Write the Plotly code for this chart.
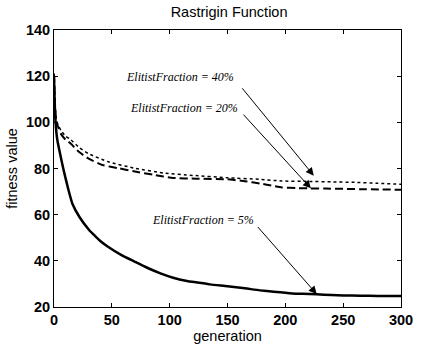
import plotly.graph_objects as go

# Best fitness per generation for three elitist fractions
gen_5 = [0, 1, 2, 3, 5, 8, 12, 16, 22, 30, 35, 40, 47, 58, 70, 81, 92, 103, 115, 123,
         135, 150, 165, 178, 190, 206, 215, 227, 240, 250, 265, 280, 300]
fit_5 = [120, 103, 96, 92, 87, 80, 71.7, 64.6, 59, 53.6, 51, 48.6, 46, 42.6, 39.6, 36.9,
         34.6, 32.7, 31.3, 30.7, 29.8, 29, 28.1, 27.2, 26.6, 25.9, 25.7, 25.5, 25.2, 25,
         24.9, 24.8, 24.8]

gen_20 = [0, 1, 2, 4, 6, 10, 14, 22, 30, 42, 56, 70, 86, 103, 123, 150, 165, 178, 190,
          197, 210, 220, 235, 250, 270, 300]
fit_20 = [121, 106, 100, 97.5, 95, 92.5, 91, 87, 84.3, 81.5, 80.1, 78.7, 77.3, 75.9, 75.6,
          75.3, 74.5, 73.5, 72.4, 71.8, 71.5, 71.4, 71.3, 71.2, 71.0, 70.8]

gen_40 = [0, 1, 2, 4, 6, 10, 14, 22, 30, 47, 70, 95, 120, 150, 178, 197, 220, 240, 260,
          280, 300]
fit_40 = [121, 107, 101, 98.5, 96.5, 94, 92.7, 89, 86.4, 82.9, 80.1, 78, 77, 76, 75.3,
          74.6, 74.4, 74.2, 74, 73.6, 73.2]

x_ticks = [0, 50, 100, 150, 200, 250, 300]
y_ticks = [20, 40, 60, 80, 100, 120, 140]

# Label text, label centre, arrow tail, arrow tip
labels = ["ElitistFraction = 40%", "ElitistFraction = 20%", "ElitistFraction = 5%"]
label_xy = [(108.9, 119.6), (112.3, 106.1), (129.0, 57.8)]
arrow_tail = [(161.7, 115.4), (162.6, 104.0), (175.1, 55.3)]
arrow_tip = [(224.6, 76.9), (222.1, 71.4), (227.1, 25.6)]

fig = go.Figure()
fig.add_trace(go.Scatter(x=gen_40, y=fit_40, mode="lines",
                         line=dict(color="black", width=1.5, dash="dot",
                                   shape="spline", smoothing=0.5)))
fig.add_trace(go.Scatter(x=gen_20, y=fit_20, mode="lines",
                         line=dict(color="black", width=2, dash="8px,4px",
                                   shape="spline", smoothing=0.5)))
fig.add_trace(go.Scatter(x=gen_5, y=fit_5, mode="lines",
                         line=dict(color="black", width=2.5,
                                   shape="spline", smoothing=0.5)))

annotations = []
for text, (lx, ly) in zip(labels, label_xy):
    annotations.append(dict(x=lx, y=ly, xref="x", yref="y", text=f"<i>{text}</i>",
                            showarrow=False,
                            font=dict(family="Liberation Serif", size=12, color="black")))
for (tx, ty), (hx, hy) in zip(arrow_tail, arrow_tip):
    annotations.append(dict(x=hx, y=hy, ax=tx, ay=ty, xref="x", yref="y",
                            axref="x", ayref="y", text="", showarrow=True,
                            arrowhead=2, arrowsize=1.6, arrowwidth=1,
                            arrowcolor="black"))

axis_font = dict(family="Liberation Sans", size=14.5, color="black")
tick_font = dict(family="Liberation Sans", size=14.5, color="black", weight="bold")
fig.update_layout(
    width=425, height=352,
    margin=dict(l=54, r=13, t=30, b=39),
    paper_bgcolor="white", plot_bgcolor="white",
    showlegend=False,
    title=dict(text="Rastrigin Function", x=0.539, xanchor="center", y=0.966,
               yanchor="middle", font=dict(family="Liberation Sans", size=14.5, color="black")),
    annotations=annotations,
    xaxis=dict(range=[0, 300], tickvals=x_ticks, ticks="inside", ticklen=4,
               showgrid=False, zeroline=False, showline=True, linecolor="black",
               linewidth=1, mirror="ticks", tickcolor="black", tickfont=tick_font,
               title=dict(text="generation", font=axis_font, standoff=1)),
    yaxis=dict(range=[20, 140], tickvals=y_ticks, ticks="inside", ticklen=4,
               showgrid=False, zeroline=False, showline=True, linecolor="black",
               linewidth=1, mirror="ticks", tickcolor="black", tickfont=tick_font,
               title=dict(text="fitness value", font=axis_font, standoff=4)),
)

fig.write_html("out.html")
